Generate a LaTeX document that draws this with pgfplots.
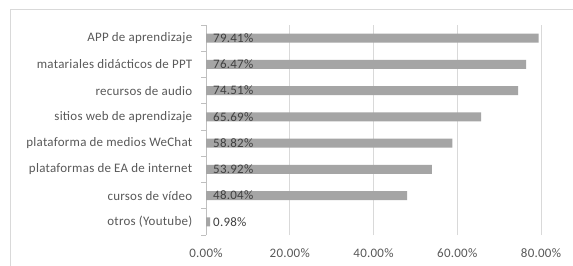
\documentclass[border=0pt]{standalone}
\usepackage{fontspec}
\setmainfont{Carlito}[LetterSpace=2]
\usepackage{pgfplots}
\pgfplotsset{compat=1.18}
\definecolor{bargrey}{HTML}{A5A5A5}
\definecolor{gridgrey}{HTML}{D9D9D9}
\definecolor{txtgrey}{HTML}{595959}
\definecolor{lbl}{HTML}{404040}
\definecolor{axgrey}{HTML}{BFBFBF}
\begin{document}
\begin{tikzpicture}
\useasboundingbox (0,0) rectangle (573bp,266bp);
\fill[white] (0,0) rectangle (573bp,266bp);
\draw[gridgrey, line width=0.8bp] (10bp,0) -- (10bp,257bp) -- (573bp,257bp);
\begin{axis}[
  at={(206bp,31bp)}, anchor=south west,
  scale only axis, width=335bp, height=210bp,
  xmin=0, xmax=80, ymin=-0.5, ymax=7.5,
  axis x line*=bottom, axis y line*=left,
  x axis line style={draw=none},
  y axis line style={draw=axgrey, line width=0.8bp},
  xmajorgrids, major grid style={draw=gridgrey, line width=0.8bp},
  xtick={0,20,40,60,80},
  xticklabel={\pgfmathprintnumber[fixed,fixed zerofill,precision=2]{\tick}\%},
  /pgf/number format/assume math mode=true,
  xtick style={draw=none},
  xticklabel style={font=\fontsize{13}{15}\selectfont, text=txtgrey, yshift=-6bp},
  ytick={0,1,2,3,4,5,6,7},
  yticklabels={otros (Youtube), cursos de vídeo, plataformas de EA de internet, plataforma de medios WeChat, sitios web de aprendizaje, recursos de audio, matariales didácticos de PPT, APP de aprendizaje},
  ytick style={draw=none},
  minor ytick={-0.5,0.5,...,7.5},
  minor y tick style={draw=axgrey, line width=0.8bp},
  minor tick length=5bp,
  tick align=outside,
  yticklabel style={font=\fontsize{13}{15}\selectfont, text=txtgrey, xshift=-6bp},
  clip=false,
]
\addplot[xbar, bar width=9bp, fill=bargrey, draw=none] coordinates {
  (0.98,0) (48.04,1) (53.92,2) (58.82,3) (65.69,4) (74.51,5) (76.47,6) (79.41,7)
};
\addplot[only marks, mark=none, point meta=explicit symbolic,
  nodes near coords,
  every node near coord/.append style={anchor=west, xshift=5bp, inner sep=2bp, text=lbl, font=\fontsize{13}{15}\selectfont}]
 coordinates {
  (0,0) [0.98\%] (0,1) [48.04\%] (0,2) [53.92\%] (0,3) [58.82\%] (0,4) [65.69\%] (0,5) [74.51\%] (0,6) [76.47\%] (0,7) [79.41\%]
};
\end{axis}
\end{tikzpicture}
\end{document}
